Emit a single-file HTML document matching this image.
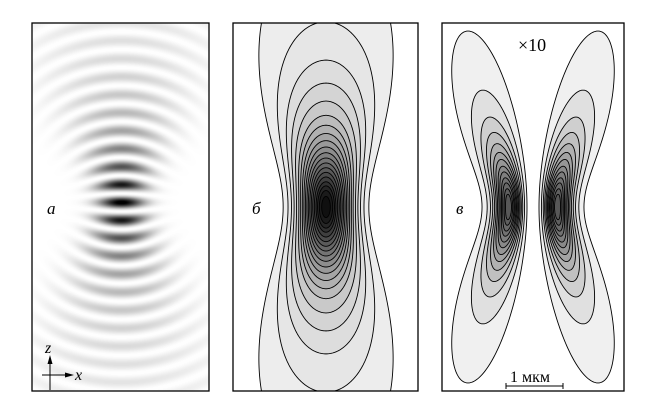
<!DOCTYPE html>
<html><head><meta charset="utf-8"><style>
html,body{margin:0;padding:0;background:#fff;width:646px;height:419px;overflow:hidden;}
#wrap{position:relative;width:646px;height:419px;overflow:hidden;background:#fff;}
canvas{position:absolute;display:block;}
svg{position:absolute;left:0;top:0;display:block;}
</style></head><body>
<div id="wrap">
<canvas id="ca" width="177" height="368" style="left:32px;top:23px"></canvas>
<svg id="sv" width="646" height="419">
  <defs>
    <clipPath id="clipB"><rect x="233" y="23" width="185" height="368"/></clipPath>
    <clipPath id="clipC"><rect x="442" y="23" width="182" height="368"/></clipPath>
  </defs>
  <g id="gB" clip-path="url(#clipB)"></g>
  <g id="gC" clip-path="url(#clipC)"></g>
  <rect x="32" y="23" width="177" height="368" fill="none" stroke="#000" stroke-width="1.3"/>
  <rect x="233" y="23" width="185" height="368" fill="none" stroke="#000" stroke-width="1.3"/>
  <rect x="442" y="23" width="182" height="368" fill="none" stroke="#000" stroke-width="1.3"/>
  <g font-family="Liberation Serif, serif" style="font-family:'Liberation Serif',serif">
  <text font-style="italic" x="47" y="214" font-size="17">а</text>
  <text font-style="italic" x="252" y="214" font-size="17">б</text>
  <text font-style="italic" x="456" y="214" font-size="17">в</text>
  <text x="518" y="51" font-size="18">×10</text>
  <text x="510" y="382" font-size="16">1 мкм</text>
  </g>
  <g stroke="#000" stroke-width="1">
    <line x1="506" y1="386" x2="563" y2="386"/><line x1="506" y1="383" x2="506" y2="389"/><line x1="563" y1="383" x2="563" y2="389"/>
  </g>
  <g font-family="Liberation Serif, serif" style="font-family:'Liberation Serif',serif">
    <line x1="50" y1="390" x2="50" y2="362" stroke="#000" stroke-width="1"/>
    <polygon points="50,355 47.5,364 52.5,364" fill="#000"/>
    <line x1="42" y1="375" x2="66" y2="375" stroke="#000" stroke-width="1"/>
    <polygon points="74,375 65,372.5 65,377.5" fill="#000"/>
    <text font-style="italic" x="45" y="353" font-size="16">z</text>
    <text font-style="italic" x="75" y="380" font-size="16">x</text>
  </g>
</svg>
</div>
<script>
// data
const levelsB = [0.05,0.095,0.143,0.19,0.243,0.3,0.35,0.4,0.45,0.5,0.55,0.6,0.65,0.7,0.75,0.8,0.85,0.89,0.93,0.97];
const levelsC = [0.154,0.286,0.40,0.49,0.57,0.64,0.70,0.76,0.81,0.86,0.90,0.94,0.97];
const fringePeriod = [18];

// Panel a
(function(){
  const c=document.getElementById('ca'),ctx=c.getContext('2d');
  const W=c.width,H=c.height,img=ctx.createImageData(W,H);
  const cx=89,cz=179,zr=40,w0=22,P=fringePeriod[0];
  for(let py=0;py<H;py++){for(let px=0;px<W;px++){
    const X=px-cx,Z=cz-py,s=1+(Z/zr)*(Z/zr),w2=w0*w0*s;
    const env=Math.pow(s,-0.75)*Math.exp(-X*X/w2);
    const ph=Z+X*X*Z/(2*(Z*Z+zr*zr));
    const f=Math.pow(Math.cos(Math.PI*ph/P),2);
    const d=Math.min(1,env*f*1.05);
    const v=Math.round(255*(1-d)),i=(py*W+px)*4;
    img.data[i]=img.data[i+1]=img.data[i+2]=v;img.data[i+3]=255;
  }}
  ctx.putImageData(img,0,0);
})();

const NS='http://www.w3.org/2000/svg';
// Panel b
(function(){
  const g=document.getElementById('gB');
  const cx=326,cy=207,zr=60,w0=35;
  levelsB.forEach((L,k)=>{
    const zmax=zr*Math.sqrt(1/L-1);
    const pts=[];const N=200;
    for(let i=0;i<=N;i++){
      const t=-Math.PI/2+Math.PI*i/N;const z=zmax*Math.sin(t);
      const s=1+(z/zr)*(z/zr);const a=Math.log(1/(L*s));
      const x=a>0?Math.sqrt(w0*w0*s/2*a):0;pts.push([x,z]);
    }
    let d='';
    pts.forEach((p,i)=>{d+=(i?'L':'M')+(cx+p[0]).toFixed(2)+','+(cy-p[1]).toFixed(2);});
    for(let i=pts.length-1;i>=0;i--){d+='L'+(cx-pts[i][0]).toFixed(2)+','+(cy-pts[i][1]).toFixed(2);}
    d+='Z';
    const gv=Math.round(244-237*Math.pow(L,1.2));
    const p=document.createElementNS(NS,'path');
    
    
    p.setAttribute('d',d);p.setAttribute('fill','rgb('+gv+','+gv+','+gv+')');
    p.setAttribute('stroke','#000');p.setAttribute('stroke-width','0.9');
    g.appendChild(p);
  });
})();

// Panel c
(function(){
  const g=document.getElementById('gC');
  const cx=533,cy=207,zw=70,w0=34.6,q=1.88,fmax=0.5*Math.exp(-1);
  const wz=z=>w0*Math.pow(1+(z/45)*(z/45),0.35);
  const gz=z=>Math.pow(1+(z/zw)*(z/zw),-q/2);
  const h=u=>u*Math.exp(-2*u);
  function bis(f,a,b){for(let i=0;i<60;i++){const m=(a+b)/2;if((f(a)>0)===(f(m)>0))a=m;else b=m;}return (a+b)/2;}
  levelsC.forEach((Lr,k)=>{
    const L=Lr*fmax;
    const zmax=bis(z=>gz(z)*fmax-L,0,600);
    const outer=[],inner=[];const N=160;
    for(let i=0;i<=N;i++){
      const t=-Math.PI/2+Math.PI*i/N;const z=zmax*Math.sin(t)*0.9999;
      const T=L/gz(z);const w=wz(z);
      let u1=0.5,u2=0.5;
      if(T<fmax){u1=bis(u=>h(u)-T,0,0.5);u2=bis(u=>h(u)-T,0.5,30);}
      inner.push([w*Math.sqrt(u1),z]);outer.push([w*Math.sqrt(u2),z]);
    }
    [1,-1].forEach(sg=>{
      let d='';
      outer.forEach((p,i)=>{d+=(i?'L':'M')+(cx+sg*p[0]).toFixed(2)+','+(cy-p[1]).toFixed(2);});
      for(let i=inner.length-1;i>=0;i--){d+='L'+(cx+sg*inner[i][0]).toFixed(2)+','+(cy-inner[i][1]).toFixed(2);}
      d+='Z';
      const gv=Math.round(250-170*Math.pow(Lr,1.5));
      const p=document.createElementNS(NS,'path');
      
      
      p.setAttribute('d',d);p.setAttribute('fill','rgb('+gv+','+gv+','+gv+')');
      p.setAttribute('stroke','#000');p.setAttribute('stroke-width','0.9');
      g.appendChild(p);
    });
  });
})();
</script>
</body></html>
